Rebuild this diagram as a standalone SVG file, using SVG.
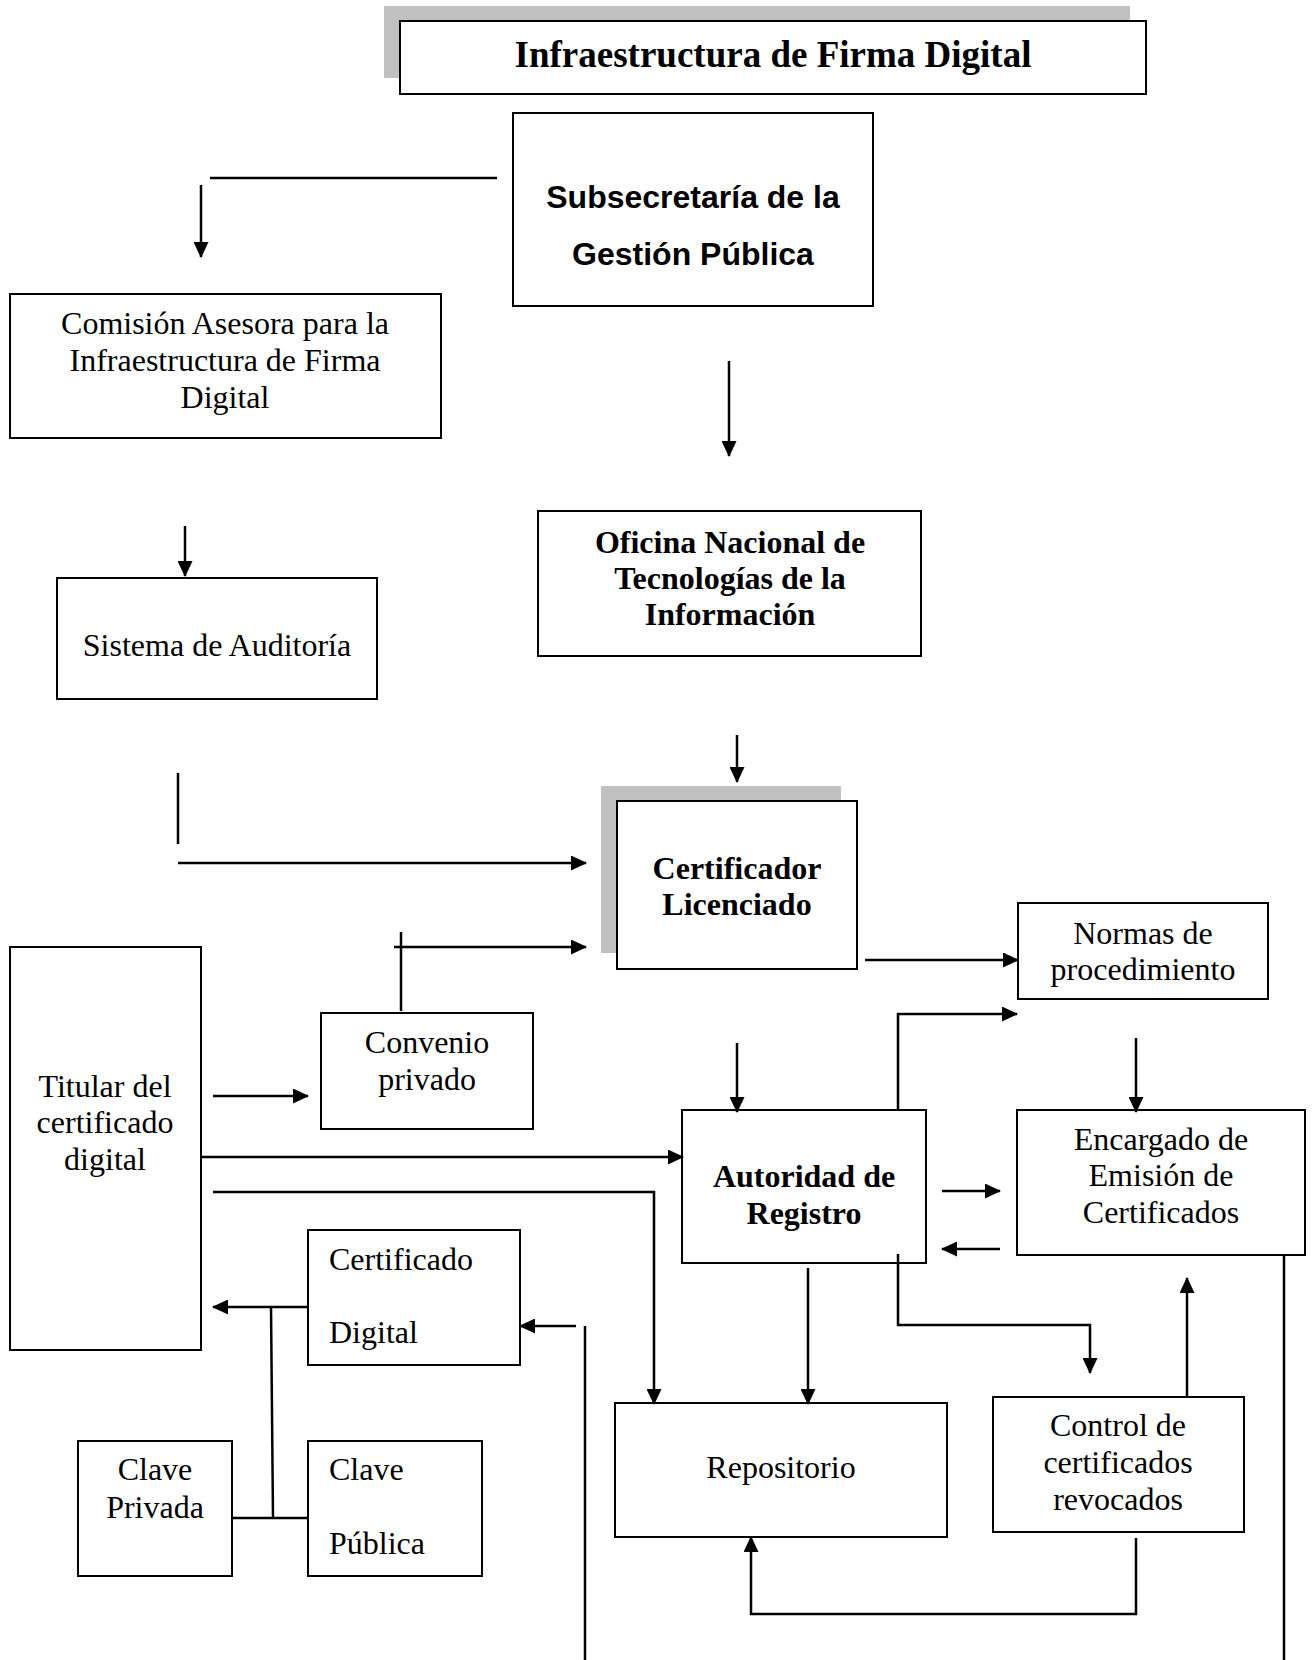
<svg xmlns="http://www.w3.org/2000/svg" width="1316" height="1660" viewBox="0 0 1316 1660">
  <style>
    .box { fill: #fff; stroke: #000; stroke-width: 2; }
    .shadow { fill: #c0c0c0; stroke: none; }
    .ln { fill: none; stroke: #000; stroke-width: 2.5; }
    .arr { marker-end: url(#ah); }
    .t { font-family: "Liberation Serif", "Times New Roman", serif; font-size: 32px; fill: #000; }
    .b { font-weight: bold; }
    .sans { font-family: "Liberation Sans", Arial, sans-serif; font-weight: bold; font-size: 32px; fill: #000; }
    .c { text-anchor: middle; }
  </style>
  <defs>
    <marker id="ah" viewBox="0 0 16 15" refX="15" refY="7.5" markerWidth="16" markerHeight="15" orient="auto" markerUnits="userSpaceOnUse">
      <path d="M0,0 L16,7.5 L0,15 Z" fill="#000"/>
    </marker>
  </defs>

  <rect width="1316" height="1660" fill="#fff"/>

  <!-- title -->
  <g id="titulo">
    <rect class="shadow" x="384" y="6" width="746" height="72"/>
    <rect class="box" x="400" y="21" width="746" height="73"/>
    <text class="t b c" x="773" y="67" style="font-size:37px">Infraestructura de Firma Digital</text>
  </g>

  <g id="subsecretaria">
    <rect class="box" x="513" y="113" width="360" height="193"/>
    <text class="sans c" x="693" y="208">Subsecretaría de la</text>
    <text class="sans c" x="693" y="265">Gestión Pública</text>
  </g>

  <g id="comision">
    <rect class="box" x="10" y="294" width="431" height="144"/>
    <text class="t c" x="225" y="334">Comisión Asesora para la</text>
    <text class="t c" x="225" y="371">Infraestructura de Firma</text>
    <text class="t c" x="225" y="408">Digital</text>
  </g>

  <g id="auditoria">
    <rect class="box" x="57" y="578" width="320" height="121"/>
    <text class="t c" x="217" y="656">Sistema de Auditoría</text>
  </g>

  <g id="oficina">
    <rect class="box" x="538" y="511" width="383" height="145"/>
    <text class="t b c" x="730" y="553">Oficina Nacional de</text>
    <text class="t b c" x="730" y="589">Tecnologías de la</text>
    <text class="t b c" x="730" y="625">Información</text>
  </g>

  <g id="certificador">
    <rect class="shadow" x="601" y="786" width="240" height="167"/>
    <rect class="box" x="617" y="801" width="240" height="168"/>
    <text class="t b c" x="737" y="879">Certificador</text>
    <text class="t b c" x="737" y="915">Licenciado</text>
  </g>

  <g id="titular">
    <rect class="box" x="10" y="947" width="191" height="403"/>
    <text class="t c" x="105" y="1097">Titular del</text>
    <text class="t c" x="105" y="1133">certificado</text>
    <text class="t c" x="105" y="1170">digital</text>
  </g>

  <g id="convenio">
    <rect class="box" x="321" y="1013" width="212" height="116"/>
    <text class="t c" x="427" y="1053">Convenio</text>
    <text class="t c" x="427" y="1090">privado</text>
  </g>

  <g id="normas">
    <rect class="box" x="1018" y="903" width="250" height="96"/>
    <text class="t c" x="1143" y="944">Normas de</text>
    <text class="t c" x="1143" y="980">procedimiento</text>
  </g>

  <g id="autoridad">
    <rect class="box" x="682" y="1110" width="244" height="153"/>
    <text class="t b c" x="804" y="1187">Autoridad de</text>
    <text class="t b c" x="804" y="1224">Registro</text>
  </g>

  <g id="encargado">
    <rect class="box" x="1017" y="1110" width="288" height="145"/>
    <text class="t c" x="1161" y="1150">Encargado de</text>
    <text class="t c" x="1161" y="1186">Emisión de</text>
    <text class="t c" x="1161" y="1223">Certificados</text>
  </g>

  <g id="certificado-digital">
    <rect class="box" x="308" y="1230" width="212" height="135"/>
    <text class="t" x="329" y="1270">Certificado</text>
    <text class="t" x="329" y="1343">Digital</text>
  </g>

  <g id="repositorio">
    <rect class="box" x="615" y="1403" width="332" height="134"/>
    <text class="t c" x="781" y="1478">Repositorio</text>
  </g>

  <g id="control">
    <rect class="box" x="993" y="1397" width="251" height="135"/>
    <text class="t c" x="1118" y="1436">Control de</text>
    <text class="t c" x="1118" y="1473">certificados</text>
    <text class="t c" x="1118" y="1510">revocados</text>
  </g>

  <g id="clave-privada">
    <rect class="box" x="78" y="1441" width="154" height="135"/>
    <text class="t c" x="155" y="1480">Clave</text>
    <text class="t c" x="155" y="1518">Privada</text>
  </g>

  <g id="clave-publica">
    <rect class="box" x="308" y="1441" width="174" height="135"/>
    <text class="t" x="329" y="1480">Clave</text>
    <text class="t" x="329" y="1554">Pública</text>
  </g>

  <!-- connectors -->
  <g id="conectores">
    <path class="ln" d="M210,178 H497"/>
    <path class="ln arr" d="M201,185 V257"/>
    <path class="ln arr" d="M185,526 V576"/>
    <path class="ln arr" d="M729,361 V456"/>
    <path class="ln arr" d="M737,735 V782"/>
    <path class="ln" d="M178,773 V844"/>
    <path class="ln arr" d="M178,863 H586"/>
    <path class="ln" d="M401,932 V1011"/>
    <path class="ln arr" d="M394,947 H586"/>
    <path class="ln arr" d="M213,1096 H308"/>
    <path class="ln arr" d="M865,960 H1018"/>
    <path class="ln arr" d="M737,1043 V1112"/>
    <path class="ln arr" d="M898,1110 V1014 H1017"/>
    <path class="ln arr" d="M1136,1038 V1112"/>
    <path class="ln arr" d="M942,1191 H1000"/>
    <path class="ln arr" d="M1000,1249 H942"/>
    <path class="ln" d="M1284,1255 V1660"/>
    <path class="ln arr" d="M201,1157 H683"/>
    <path class="ln arr" d="M213,1192 H654 V1404"/>
    <path class="ln arr" d="M808,1268 V1404"/>
    <path class="ln arr" d="M898,1254 V1325 H1090 V1373"/>
    <path class="ln arr" d="M1187,1397 V1278"/>
    <path class="ln arr" d="M1136,1538 V1614 H751 V1537"/>
    <path class="ln arr" d="M576,1326 H520"/>
    <path class="ln" d="M585,1326 V1660"/>
    <path class="ln arr" d="M308,1307 H213"/>
    <path class="ln" d="M271,1307 L273,1518"/>
    <path class="ln" d="M232,1518 H308"/>
  </g>
</svg>
